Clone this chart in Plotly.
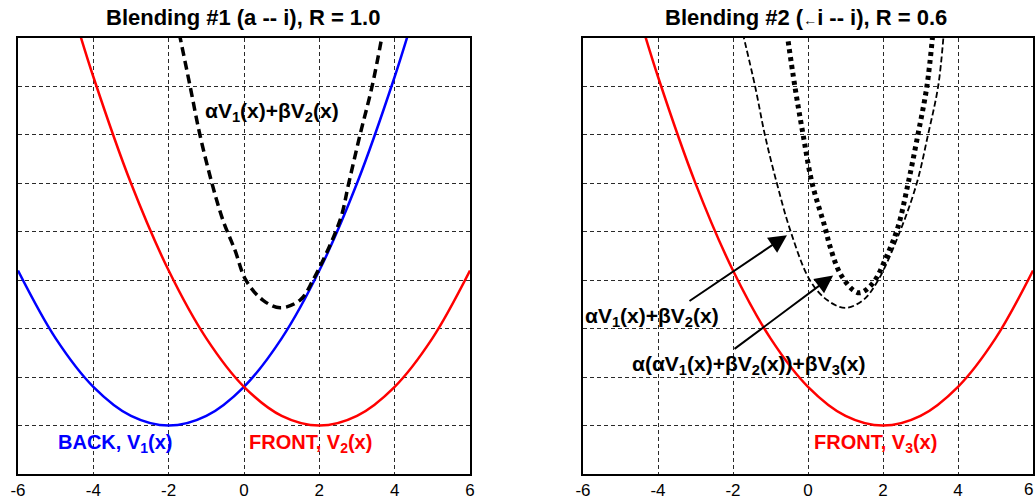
import plotly.graph_objects as go

# ---------------- data ----------------
# Left panel: Blending #1
v1_x = [-6, -5, -4, -3, -2, -1, 0, 1, 2, 3, 4, 4.5]
v1_y = [4.2, 2.8, 1.8, 1.2, 1.0, 1.2, 1.8, 2.8, 4.2, 6.0, 8.2, 9.45]

v2_x = [-4.5, -4, -3, -2, -1, 0, 1, 2, 3, 4, 5, 6]
v2_y = [9.45, 8.2, 6.0, 4.2, 2.8, 1.8, 1.2, 1.0, 1.2, 1.8, 2.8, 4.2]

blend1_x = [-1.72, -1.43, -1.17, -0.85, -0.56, -0.24, 0.05, 0.5, 0.96, 1.49, 1.83, 2.55, 2.78, 3.08, 3.40, 3.68]
blend1_y = [9.1, 8.0, 7.0, 6.0, 5.24, 4.62, 4.0, 3.59, 3.43, 3.59, 4.0, 5.24, 6.0, 7.0, 8.0, 9.1]

# Right panel: Blending #2
v3_x = [-4.5, -4, -3, -2, -1, 0, 1, 2, 3, 4, 5, 6]
v3_y = [9.45, 8.2, 6.0, 4.2, 2.8, 1.8, 1.2, 1.0, 1.2, 1.8, 2.8, 4.2]

blend2_x = [-1.74, -1.41, -1.15, -0.83, -0.46, 0.05, 0.51, 0.99, 1.47, 1.87, 2.45, 2.9, 3.2, 3.47, 3.62]
blend2_y = [9.1, 8.0, 7.0, 6.0, 5.0, 4.0, 3.59, 3.43, 3.59, 4.0, 5.0, 6.0, 7.0, 8.0, 9.1]

blend3_x = [-0.56, -0.35, -0.13, 0.11, 0.45, 0.59, 0.85, 1.2, 1.39, 1.73, 2.1, 2.4, 2.67, 2.93, 3.17, 3.33]
blend3_y = [9.1, 8.0, 7.0, 6.0, 5.1, 4.69, 4.15, 3.8, 3.74, 3.94, 4.5, 5.1, 6.0, 7.0, 8.0, 9.1]

x_ticks = [-6, -4, -2, 0, 2, 4, 6]
x_tick_text = ["-6", "-4", "-2", "0", "2", "4", "6"]

FONT = "Arial, Liberation Sans, sans-serif"
BLUE = "#0000ff"
RED = "#ff0000"
GRID = "#2a2a2a"

fig = go.Figure()

# left panel
fig.add_trace(go.Scatter(x=v1_x, y=v1_y, mode="lines", line=dict(color=BLUE, width=2.5, shape="spline"),
                         xaxis="x", yaxis="y", hoverinfo="skip"))
fig.add_trace(go.Scatter(x=v2_x, y=v2_y, mode="lines", line=dict(color=RED, width=2.5, shape="spline"),
                         xaxis="x", yaxis="y", hoverinfo="skip"))
fig.add_trace(go.Scatter(x=blend1_x, y=blend1_y, mode="lines",
                         line=dict(color="black", width=3.5, dash="9px,5px", shape="spline"),
                         xaxis="x", yaxis="y", hoverinfo="skip"))

# right panel
fig.add_trace(go.Scatter(x=v3_x, y=v3_y, mode="lines", line=dict(color=RED, width=2.5, shape="spline"),
                         xaxis="x2", yaxis="y2", hoverinfo="skip"))
fig.add_trace(go.Scatter(x=blend2_x, y=blend2_y, mode="lines",
                         line=dict(color="black", width=1.8, dash="6px,3px", shape="spline"),
                         xaxis="x2", yaxis="y2", hoverinfo="skip"))
fig.add_trace(go.Scatter(x=blend3_x, y=blend3_y, mode="lines",
                         line=dict(color="black", width=5, dash="4px,4px", shape="spline"),
                         xaxis="x2", yaxis="y2", hoverinfo="skip"))

x_common = dict(range=[-6, 6], tickvals=x_ticks, ticktext=x_tick_text, showgrid=True,
                gridcolor=GRID, griddash="4px,3px", gridwidth=1, zeroline=False,
                showline=True, mirror=True, linecolor="black", linewidth=1.5, ticks="",
                tickfont=dict(family=FONT, size=17, color="black"), fixedrange=True,
                automargin=False)
y_common = dict(range=[0, 9], dtick=1, tick0=0, showticklabels=False, showgrid=True,
                gridcolor=GRID, griddash="4px,3px", gridwidth=1, zeroline=False,
                showline=True, mirror=True, linecolor="black", linewidth=1.5, ticks="",
                fixedrange=True, automargin=False)

W, H = 1035, 500
top = 1 - 38 / H
bot = 1 - 474 / H

fig.update_layout(
    width=W, height=H, margin=dict(l=0, r=0, t=0, b=0, autoexpand=False),
    paper_bgcolor="white", plot_bgcolor="white", showlegend=False,
    xaxis=dict(domain=[18 / W, 470 / W], anchor="y", **x_common),
    yaxis=dict(domain=[bot, top], anchor="x", **y_common),
    xaxis2=dict(domain=[583 / W, 1033 / W], anchor="y2", **x_common),
    yaxis2=dict(domain=[bot, top], anchor="x2", **y_common),
)

ann = []
# titles
ann.append(dict(text="<b>Blending #1 (a -- i), R = 1.0</b>", xref="paper", yref="paper",
                x=243 / W, y=1 - 17 / H, xanchor="center", yanchor="middle", showarrow=False,
                font=dict(family=FONT, size=22, color="black")))
ann.append(dict(text="<b>Blending #2 (<span style='font-size:14px'>←</span>i -- i), R = 0.6</b>",
                xref="paper", yref="paper",
                x=806 / W, y=1 - 17 / H, xanchor="center", yanchor="middle", showarrow=False,
                font=dict(family=FONT, size=22, color="black")))
# last tick label of the right panel, kept inside the page edge
ann.append(dict(text="6", xref="paper", yref="paper", x=1.0, y=1 - 489 / H, xanchor="right",
                yanchor="middle", showarrow=False, font=dict(family=FONT, size=17, color="black")))
# left labels
ann.append(dict(text="<b>BACK, V<sub>1</sub>(x)</b>", xref="x", yref="y", x=-3.42, y=0.64,
                showarrow=False, font=dict(family=FONT, size=20, color=BLUE)))
ann.append(dict(text="<b>FRONT, V<sub>2</sub>(x)</b>", xref="x", yref="y", x=1.76, y=0.64,
                showarrow=False, font=dict(family=FONT, size=20, color=RED)))
ann.append(dict(text="<b>αV<sub>1</sub>(x)+βV<sub>2</sub>(x)</b>", xref="x", yref="y", x=0.74, y=7.47,
                showarrow=False, font=dict(family=FONT, size=21, color="black")))
# right labels
ann.append(dict(text="<b>FRONT, V<sub>3</sub>(x)</b>", xref="x2", yref="y2", x=1.79, y=0.64,
                showarrow=False, font=dict(family=FONT, size=20, color=RED)))
ann.append(dict(text="<b>αV<sub>1</sub>(x)+βV<sub>2</sub>(x)</b>", xref="x2", yref="y2", x=-6.0, y=3.24,
                xanchor="left", showarrow=False, font=dict(family=FONT, size=21, color="black")))
ann.append(dict(text="<b>α(αV<sub>1</sub>(x)+βV<sub>2</sub>(x))+βV<sub>3</sub>(x)</b>", xref="x2", yref="y2",
                x=-1.58, y=2.25, xanchor="center", showarrow=False,
                font=dict(family=FONT, size=21, color="black")))
# arrows
ann.append(dict(text="", xref="x2", yref="y2", x=-0.56, y=4.93, axref="x2", ayref="y2",
                ax=-3.2, ay=3.55, showarrow=True, arrowhead=2, arrowsize=1.8, arrowwidth=2,
                arrowcolor="black"))
ann.append(dict(text="", xref="x2", yref="y2", x=0.67, y=4.1, axref="x2", ayref="y2",
                ax=-2.0, ay=2.56, showarrow=True, arrowhead=2, arrowsize=1.8, arrowwidth=2,
                arrowcolor="black"))
fig.update_layout(annotations=ann)

fig.write_html("out.html")
